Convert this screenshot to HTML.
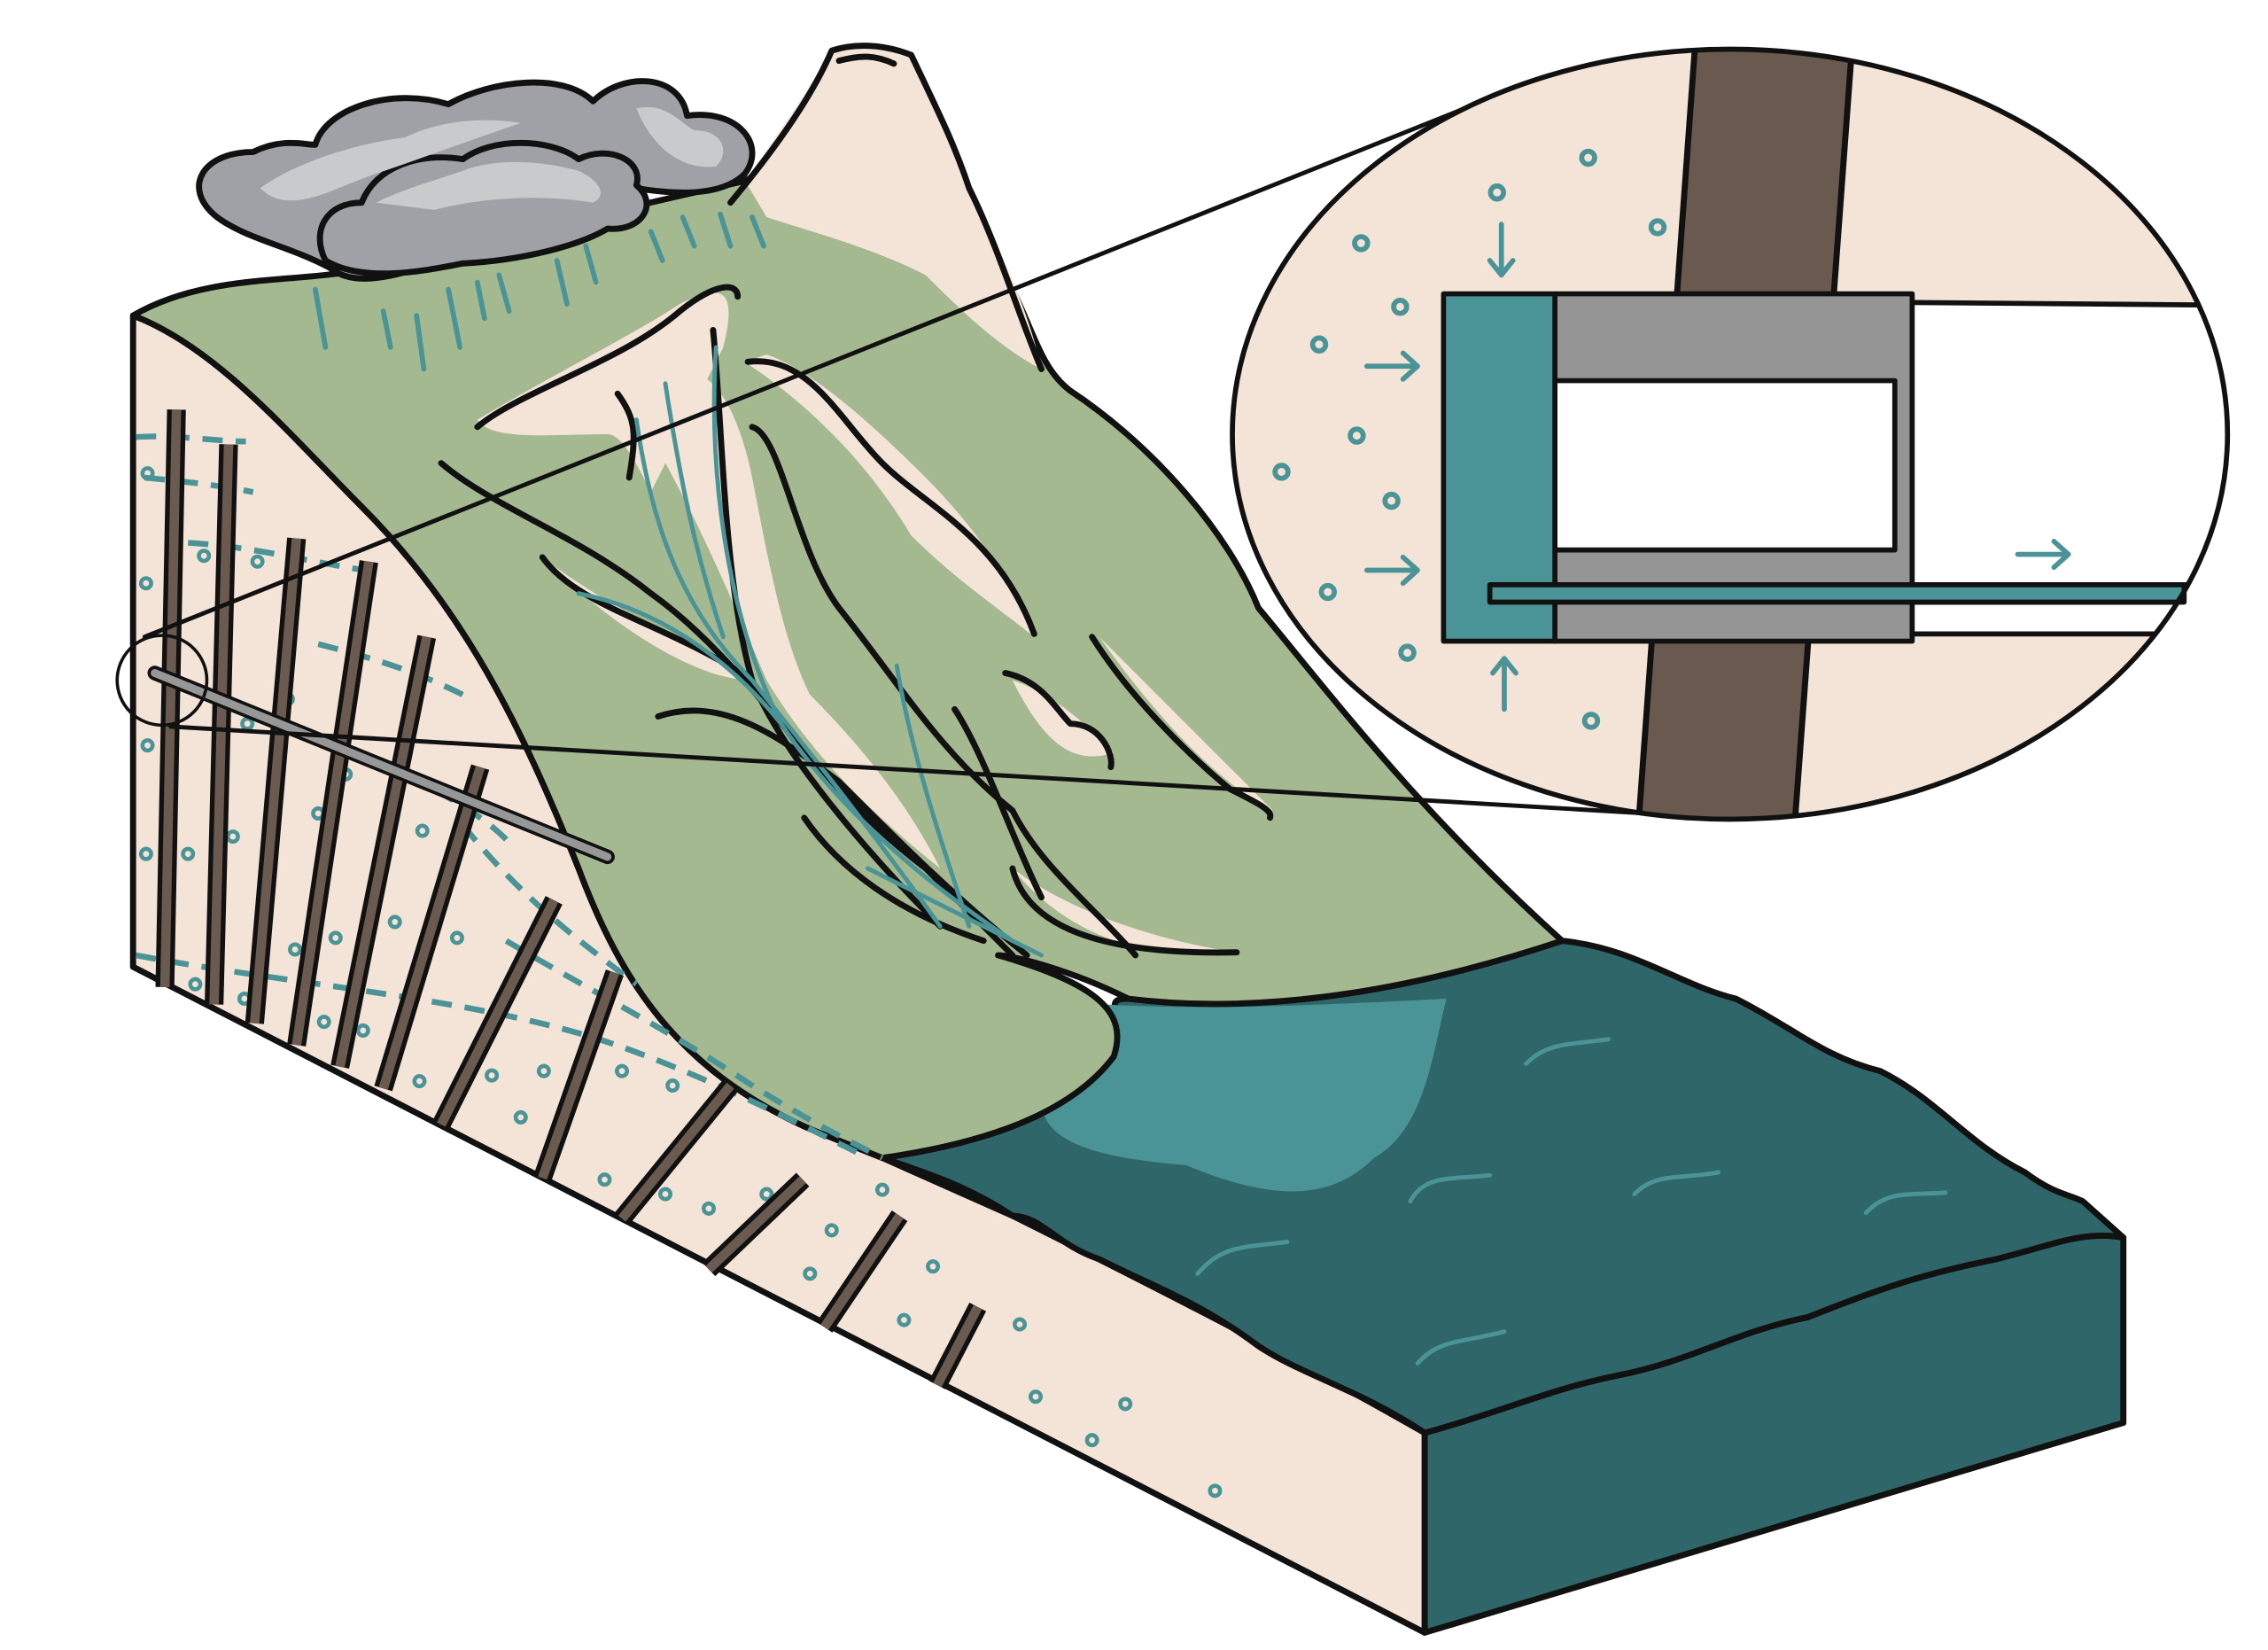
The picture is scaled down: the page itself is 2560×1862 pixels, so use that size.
<!DOCTYPE html>
<html><head><meta charset="utf-8"><style>html,body{margin:0;padding:0;background:#fff}svg{display:block}</style></head>
<body>
<svg width="2560" height="1862" viewBox="0 0 1568 1140" preserveAspectRatio="none" xmlns="http://www.w3.org/2000/svg">
<rect width="1568" height="1140" fill="#fff"/>
<g stroke="#111" stroke-width="4.2" stroke-linejoin="round" stroke-linecap="round">
<!-- front beige face -->
<path d="M92,218 C150,240 200,300 250,350 C320,420 360,500 400,600 C430,680 470,740 560,780 L610,800 L700,840 C780,880 880,930 985,990 L985,1128 L92,668 Z" fill="#f3e4d7"/>
<!-- water front face -->
<path d="M985,990 C1040,975 1070,960 1120,950 C1170,940 1200,920 1250,910 C1300,890 1330,880 1380,870 C1420,860 1440,850 1468,855 L1468,983 L985,1128 Z" fill="#2e6669"/>
<!-- water top -->
<path d="M610,800 C680,790 740,770 770,730 C780,700 760,690 780,690 C860,700 960,690 1080,650 C1130,655 1160,680 1200,690 C1240,710 1260,730 1300,740 C1340,760 1360,790 1400,810 C1420,825 1430,825 1440,830 L1468,855 C1440,850 1420,860 1380,870 C1330,880 1300,890 1250,910 C1200,920 1170,940 1120,950 C1070,960 1040,975 985,990 C940,960 900,950 870,930 C830,900 800,890 760,870 C730,860 720,840 700,840 C670,820 640,810 610,800 Z" fill="#2e6669"/>
<path d="M720,690 C800,700 900,695 1000,690 C990,730 985,780 950,800 C920,830 880,830 820,805 C760,800 720,790 720,760 Z" fill="#4a9396" stroke="none"/>
<!-- green top -->
<path d="M92,218 C140,190 200,195 240,188 L515,125 L560,100 C600,130 660,170 700,200 C715,230 720,255 740,270 C800,310 850,370 870,420 C920,480 980,560 1080,650 C960,690 860,700 780,690 C740,670 700,660 690,660 C760,680 780,700 770,730 C740,770 680,790 610,800 L560,780 C470,740 430,680 400,600 C360,500 320,420 250,350 C200,300 150,240 92,218 Z" fill="#a5b990"/>
<!-- mountain -->
<path d="M515,125 C540,90 560,60 575,35 C590,30 610,30 630,38 C650,80 660,100 670,130 C690,170 710,210 720,255 C690,240 660,210 640,190 C600,170 560,160 530,150 Z" fill="#f3e4d7" stroke="none"/>
<path d="M505,140 C530,110 560,70 575,35 C590,30 610,30 630,38 C650,80 660,100 670,130 C690,170 705,220 720,255" fill="none"/>
<path d="M580,42 C595,38 605,38 618,44" fill="none"/>
<!-- beige patches on green -->
<g stroke="none" fill="#f3e4d7">
<path d="M330,290 C380,260 440,230 470,210 C500,195 510,200 500,240 C480,280 460,320 450,340 C440,320 430,300 420,300 C380,300 340,305 330,290Z"/>
<path d="M430,270 C470,330 500,400 530,470 C560,520 600,560 650,600 C630,560 600,520 560,480 C540,440 530,380 520,330 C510,280 490,250 470,260Z"/>
<path d="M515,250 C560,280 600,320 630,370 C660,400 690,420 715,440 C700,400 670,360 640,330 C600,290 560,255 530,245Z"/>
<path d="M700,470 C730,480 750,500 770,520 C740,530 720,510 700,470Z"/>
<path d="M760,440 C800,480 840,520 880,560 C850,545 810,510 760,440Z"/>
<path d="M700,600 C740,630 800,650 855,658 C800,665 740,650 700,600Z"/>
<path d="M375,385 C420,420 470,440 520,470 C480,470 420,430 375,385Z"/>
<path d="M620,175 C660,180 690,190 700,210 C680,215 650,200 620,175Z"/>
</g>
<!-- black channel lines -->
<g fill="none">
<path d="M330,295 C360,270 430,250 470,215 C495,195 510,195 510,205"/>
<path d="M493,228 C500,300 500,400 520,470 C540,520 600,590 650,640"/>
<path d="M427,272 C440,290 440,300 435,330"/>
<path d="M517,250 C560,245 580,290 610,320 C640,350 690,370 715,438"/>
<path d="M520,295 C540,300 550,380 580,420 C620,470 650,520 700,560 C720,600 760,630 785,660"/>
<path d="M305,320 C340,350 400,370 450,410 C520,460 560,540 640,600 C670,630 690,650 700,660"/>
<path d="M375,385 C400,420 460,430 520,470"/>
<path d="M455,495 C500,480 540,510 580,540 C620,580 660,620 710,660"/>
<path d="M556,565 C580,600 620,630 680,650"/>
<path d="M660,490 C680,520 700,580 720,620"/>
<path d="M695,465 C720,470 730,490 740,500 C760,500 770,520 768,530"/>
<path d="M755,440 C780,480 820,520 850,545 C870,555 880,560 878,565"/>
<path d="M700,600 C710,640 760,660 855,658"/>
</g>
<!-- teal streams -->
<g fill="none" stroke="#4a9396" stroke-width="3">
<path d="M495,240 C490,320 500,420 540,500 C580,560 640,610 700,650"/>
<path d="M440,290 C450,360 470,420 520,470 C560,520 600,570 650,640"/>
<path d="M400,410 C450,420 500,450 540,500"/>
<path d="M460,265 C470,330 480,380 500,440"/>
<path d="M620,460 C630,520 650,580 670,640"/>
<path d="M600,600 C640,620 680,640 720,660"/>
</g>
<!-- rain -->
<g stroke="#4a9396" stroke-width="3.5" fill="none">
<path d="M218,200 L225,240"/><path d="M265,215 L270,240"/><path d="M288,218 L293,255"/><path d="M310,200 L318,240"/><path d="M330,195 L335,220"/>
<path d="M345,190 L352,215"/><path d="M385,180 L392,210"/><path d="M405,170 L412,195"/><path d="M450,160 L458,180"/><path d="M472,150 L480,170"/><path d="M498,148 L505,170"/><path d="M520,150 L528,170"/>
</g>
<!-- clouds -->
<path d="M150,150 C125,130 140,105 175,105 C195,95 210,100 218,100 C225,75 270,60 310,72 C340,55 390,50 410,70 C430,50 470,50 475,80 C510,75 530,100 515,120 C500,135 470,135 440,130 C445,150 430,160 400,160 C370,175 320,180 290,185 C260,195 240,195 228,185 C200,170 170,165 150,150 Z" fill="#9fa1a6"/>
<path d="M225,180 C215,160 225,140 250,140 C260,115 290,105 320,110 C340,95 380,95 400,110 C420,100 445,110 440,128 C455,140 445,160 420,158 C400,170 360,180 320,182 C290,188 250,195 225,180Z" fill="#9fa1a6"/>
<path d="M260,140 C280,130 300,125 320,118 C340,110 370,110 400,118 C415,125 420,135 410,140 C380,135 340,135 300,145 Z" fill="#c9cacc" stroke="none"/>
<path d="M180,130 C200,115 240,100 280,95 C300,85 330,80 360,85 C330,95 290,110 260,120 C230,130 200,150 180,130Z" fill="#c9cacc" stroke="none"/>
<path d="M440,75 C460,70 470,85 480,90 C500,90 505,105 495,115 C470,118 450,100 440,75Z" fill="#c9cacc" stroke="none"/>
<!-- dashed teal lines in section -->
<g fill="none" stroke="#4a9396" stroke-width="4" stroke-dasharray="14 9" stroke-linecap="butt">
<path d="M94,302 C120,300 150,305 170,305"/>
<path d="M100,330 C130,333 150,335 175,340"/>
<path d="M130,375 C180,378 220,390 260,395"/>
<path d="M220,445 C260,455 290,465 320,480"/>
<path d="M260,525 C300,545 330,560 350,580"/>
<path d="M320,570 C360,620 400,650 440,680"/>
<path d="M94,660 C200,680 330,690 420,720 C480,740 540,770 600,800"/>
<path d="M350,650 C400,680 460,710 520,750 C560,775 590,790 610,800"/>
</g>
<!-- dots -->
<g fill="none" stroke="#4a9396" stroke-width="2.8">
<circle cx="102" cy="327" r="3.5"/><circle cx="101" cy="403" r="3.5"/><circle cx="102" cy="515" r="3.5"/><circle cx="101" cy="590" r="3.5"/><circle cx="141" cy="384" r="3.5"/><circle cx="178" cy="388" r="3.5"/><circle cx="171" cy="500" r="3.5"/><circle cx="199" cy="483" r="3.5"/><circle cx="220" cy="562" r="3.5"/><circle cx="239" cy="535" r="3.5"/><circle cx="130" cy="590" r="3.5"/><circle cx="161" cy="578" r="3.5"/><circle cx="204" cy="656" r="3.5"/><circle cx="232" cy="648" r="3.5"/><circle cx="270" cy="570" r="3.5"/><circle cx="292" cy="574" r="3.5"/><circle cx="273" cy="637" r="3.5"/><circle cx="316" cy="648" r="3.5"/><circle cx="150" cy="680" r="3.5"/><circle cx="169" cy="690" r="3.5"/><circle cx="135" cy="680" r="3.5"/><circle cx="224" cy="706" r="3.5"/><circle cx="251" cy="712" r="3.5"/><circle cx="290" cy="747" r="3.5"/><circle cx="340" cy="743" r="3.5"/><circle cx="376" cy="740" r="3.5"/><circle cx="430" cy="740" r="3.5"/><circle cx="465" cy="750" r="3.5"/><circle cx="360" cy="772" r="3.5"/><circle cx="418" cy="815" r="3.5"/><circle cx="460" cy="825" r="3.5"/><circle cx="490" cy="835" r="3.5"/><circle cx="530" cy="825" r="3.5"/><circle cx="575" cy="850" r="3.5"/><circle cx="610" cy="822" r="3.5"/><circle cx="560" cy="880" r="3.5"/><circle cx="645" cy="875" r="3.5"/><circle cx="625" cy="912" r="3.5"/><circle cx="705" cy="915" r="3.5"/><circle cx="716" cy="965" r="3.5"/><circle cx="778" cy="970" r="3.5"/><circle cx="755" cy="995" r="3.5"/><circle cx="840" cy="1030" r="3.5"/>
</g>
<!-- piles -->
<g fill="none" stroke-linecap="butt">
<g stroke="#111" stroke-width="13">
<path d="M122,283 L114,682"/><path d="M158,307 L148,694"/><path d="M205,372 L176,707"/><path d="M255,388 L205,722"/><path d="M295,440 L235,737"/><path d="M332,530 L265,752"/><path d="M383,622 L305,777"/><path d="M425,672 L375,814"/><path d="M505,750 L430,842"/><path d="M555,815 L490,877"/><path d="M622,840 L570,917"/><path d="M676,903 L648,957"/>
</g>
<g stroke="#6b5a4f" stroke-width="6.5">
<path d="M122,283 L114,682"/><path d="M158,307 L148,694"/><path d="M205,372 L176,707"/><path d="M255,388 L205,722"/><path d="M295,440 L235,737"/><path d="M332,530 L265,752"/><path d="M383,622 L305,777"/><path d="M425,672 L375,814"/><path d="M505,750 L430,842"/><path d="M555,815 L490,877"/><path d="M622,840 L570,917"/><path d="M676,903 L648,957"/>
</g>
</g>
<!-- rod -->
<path d="M107,465 L420,592" stroke="#111" stroke-width="10"/>
<path d="M107,465 L420,592" stroke="#979797" stroke-width="5.5"/>
<!-- water ripples -->
<g fill="none" stroke="#4a9396" stroke-width="3">
<path d="M1055,735 C1070,720 1085,722 1112,718"/><path d="M828,880 C845,860 860,862 890,858"/><path d="M975,830 C985,812 1000,815 1030,812"/><path d="M1130,825 C1145,810 1160,815 1188,810"/><path d="M1290,838 C1305,822 1320,826 1345,824"/><path d="M980,942 C995,925 1010,928 1040,920"/>
</g>
<!-- zoom lines -->
<circle cx="112" cy="470" r="31" fill="none" stroke-width="2.2"/>
<path d="M100,440 L1020,72" fill="none" stroke-width="3"/>
<path d="M118,502 L1190,565" fill="none" stroke-width="3"/>
<!-- magnifier -->
<clipPath id="c"><ellipse cx="1196" cy="300" rx="344" ry="266"/></clipPath>
<ellipse cx="1196" cy="300" rx="344" ry="266" fill="#f3e4d7" stroke="none"/>
<g clip-path="url(#c)">
<path d="M1172,30 L1280,38 L1240,580 L1132,580 Z" fill="#6a594e"/>
<path d="M1172,30 L1132,580 M1280,38 L1240,580" fill="none" stroke-width="3.5"/>
<rect x="1322" y="209" width="240" height="229" fill="#fff" stroke="none"/>
<path d="M1322,209 L1560,211 M1322,438 L1560,438" fill="none" stroke-width="3.5"/>
<rect x="1030" y="404" width="520" height="12" fill="#4a9396" stroke-width="3.5"/>
</g>
<rect x="1075" y="203" width="247" height="240" fill="#959595" stroke-width="3.5"/>
<rect x="1075" y="263" width="235" height="117" fill="#fff" stroke-width="3.5"/>
<rect x="998" y="203" width="77" height="240" fill="#4a9396" stroke-width="3.5"/>
<rect x="1030" y="404" width="480" height="12" fill="#4a9396" stroke-width="3.5"/>
<ellipse cx="1196" cy="300" rx="344" ry="266" fill="none" stroke-width="3.5"/>
<g fill="none" stroke="#4a9396" stroke-width="3.5">
<circle cx="1098" cy="109" r="4.5"/><circle cx="1035" cy="133" r="4.5"/><circle cx="1146" cy="157" r="4.5"/><circle cx="941" cy="168" r="4.5"/><circle cx="968" cy="212" r="4.5"/><circle cx="912" cy="238" r="4.5"/><circle cx="938" cy="301" r="4.5"/><circle cx="886" cy="326" r="4.5"/><circle cx="962" cy="346" r="4.5"/><circle cx="918" cy="409" r="4.5"/><circle cx="973" cy="451" r="4.5"/><circle cx="1100" cy="498" r="4.5"/>
<path d="M1038,155 L1038,190 M1030,180 L1038,190 L1046,180"/>
<path d="M945,253 L980,253 M970,244 L980,253 L970,262"/>
<path d="M945,394 L980,394 M970,385 L980,394 L970,403"/>
<path d="M1040,490 L1040,455 M1032,465 L1040,455 L1048,465"/>
<path d="M1395,383 L1430,383 M1420,374 L1430,383 L1420,392"/>
</g>
</g>
</svg>
</body></html>
